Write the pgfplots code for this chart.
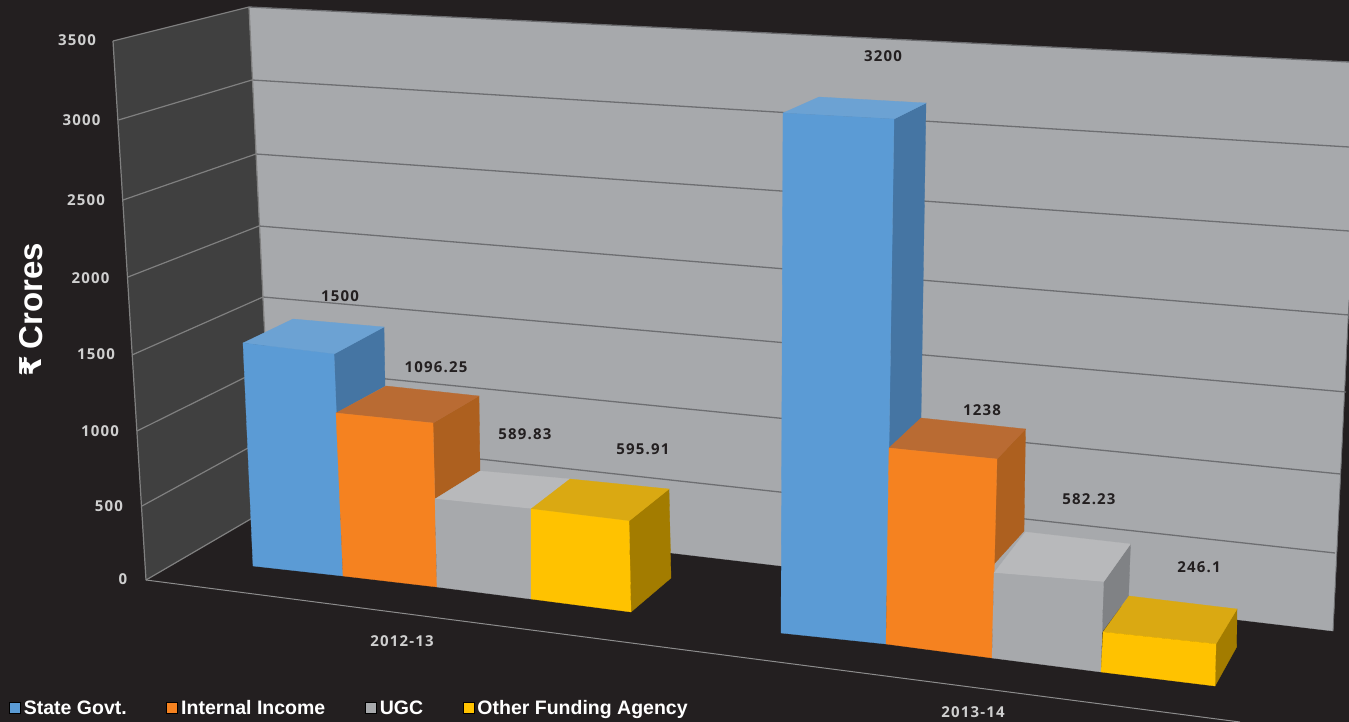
\documentclass[border=0pt]{standalone}
\usepackage{fontspec}
\usepackage{pgfplots}
\pgfplotsset{compat=1.18}
\setmainfont{Liberation Sans}
\newfontfamily\lab[LetterSpace=8]{Open Sans}
\newfontfamily\rup{DejaVu Sans}

\definecolor{bg}{HTML}{231F20}
\definecolor{lwall}{HTML}{404040}
\definecolor{bwall}{HTML}{A7A9AC}
\definecolor{lline}{HTML}{808080}
\definecolor{bline}{HTML}{6D6E71}
\definecolor{axline}{HTML}{8C8C8C}
\definecolor{tickc}{HTML}{CFCFCF}
\definecolor{bluef}{HTML}{5B9BD5}
\definecolor{bluet}{HTML}{6CA2D3}
\definecolor{blues}{HTML}{4575A3}
\definecolor{orangef}{HTML}{F58220}
\definecolor{oranget}{HTML}{B96B33}
\definecolor{oranges}{HTML}{AD601F}
\definecolor{grayf}{HTML}{A7A9AC}
\definecolor{grayt}{HTML}{B8B9BB}
\definecolor{grays}{HTML}{808285}
\definecolor{yellowf}{HTML}{FFC200}
\definecolor{yellowt}{HTML}{DAA912}
\definecolor{yellows}{HTML}{A37C00}

% filled face, corners in picture pixels
\newcommand{\face}[2]{\addplot[draw=#1,line width=0.3pt,fill=#1,forget plot] coordinates {#2} -- cycle;}
\newcommand{\seg}[3]{\addplot[draw=#1,line width=#2,forget plot] coordinates {#3};}
\newcommand{\ticklab}[2]{\node[text=tickc,font=\lab\bfseries\fontsize{15}{16}\selectfont] at (axis cs:#1) {#2};}
\newcommand{\vallab}[2]{\node[text=bg,font=\lab\bfseries\fontsize{15}{16}\selectfont] at (axis cs:#1) {#2};}

\begin{document}
\begin{tikzpicture}
\begin{axis}[
    width=1349pt, height=722pt,
    scale only axis,
    xmin=0, xmax=1349, ymin=0, ymax=722,
    y dir=reverse,
    hide axis,
    no markers,
    legend image code/.code={\fill[#1] (0pt,-5.5pt) rectangle (11pt,5.5pt);},
    legend style={
        at={(axis cs:9,708)}, anchor=west,
        draw=none, fill=none, text=white,
        font=\bfseries\fontsize{19.5}{21}\selectfont,
        legend columns=4,
        inner sep=0pt, outer sep=0pt,
        /tikz/every even column/.append style={column sep=39.5pt},
        /tikz/every odd column/.append style={column sep=3.5pt},
        nodes={inner sep=0pt},
    },
    legend cell align=left,
]
% background and walls
\face{bg}{(0,0) (1349,0) (1349,722) (0,722)}
\face{lwall}{(113,41) (249,7) (273,506) (146,580)}
\face{bwall}{(249,7) (1349,62) (1349,300) (1333,631) (273,506)}

% grid, back wall
\seg{bline}{1.3pt}{(249,7) (1349,62)}
\seg{bline}{1.3pt}{(252,80) (1349,147)}
\seg{bline}{1.3pt}{(256,154) (1349,231)}
\seg{bline}{1.3pt}{(259,226) (1349,315)}
\seg{bline}{1.3pt}{(263,297) (1346,392)}
\seg{bline}{1.3pt}{(266,367) (1340.5,474)}
\seg{bline}{1.3pt}{(270,436) (1335,553)}
\seg{bline}{0.8pt}{(1349,300) (1333,631)}
% grid, left wall
\seg{lline}{1.2pt}{(113,41) (249,7)}
\seg{lline}{1.2pt}{(118.5,120) (252,80)}
\seg{lline}{1.2pt}{(123,200) (256,154)}
\seg{lline}{1.2pt}{(128,277) (259,226)}
\seg{lline}{1.2pt}{(132,355) (263,297)}
\seg{lline}{1.2pt}{(137,431) (266,367)}
\seg{lline}{1.2pt}{(142,506) (270,436)}
\seg{lline}{1.2pt}{(146,580) (273,506)}
\seg{lline}{1.2pt}{(113,41) (146,580)}
\seg{lline}{1.2pt}{(249,7) (273,506)}
% front edge of the floor
\seg{axline}{1pt}{(146,580) (1240,722)}

% 2012-13: State Govt. 1500
\face{blues}{(334,354) (384,327) (385,386) (336,413)}
\face{bluet}{(243,343) (293,319) (384,327) (334,354)}
\face{bluef}{(243,343) (334,354) (343,576) (253,566)}
% 2012-13: Internal Income 1096.25
\face{oranges}{(433,423) (479,396) (480,471) (435,499)}
\face{oranget}{(336,413) (386,386) (479,396) (433,423)}
\face{orangef}{(336,413) (433,423) (437,587) (343,576)}
% 2012-13: UGC 589.83
\face{grayt}{(435,499) (480,471) (570,479) (532,509)}
\face{grayf}{(435,499) (532,509) (531,599) (437,587)}
% 2012-13: Other Funding Agency 595.91
\face{yellows}{(629,521) (669,489) (671,578) (631,612)}
\face{yellowt}{(531,509) (570,479) (669,489) (629,521)}
\face{yellowf}{(531,509) (629,521) (631,612) (531,599)}

% 2013-14: State Govt. 3200
\face{blues}{(894,119) (926,103) (921,418) (889,448)}
\face{bluet}{(783,113) (819,97) (926,103) (894,119)}
\face{bluef}{(783,113) (894,119) (886,644) (781,633)}
% 2013-14: Internal Income 1238
\face{oranges}{(997,459) (1025.5,429) (1024,531) (994,564)}
\face{oranget}{(889,448) (921,418) (1025.5,429) (997,459)}
\face{orangef}{(889,448) (997,459) (992,658) (886,644)}
% 2013-14: UGC 582.23
\face{grays}{(1103.5,582) (1130.5,544) (1128.6,596) (1102,632)}
\face{grayt}{(994,573) (1025.5,532) (1130.5,544) (1103.5,582)}
\face{grayf}{(994,573) (1103.5,582) (1101,672) (992,658)}
% 2013-14: Other Funding Agency 246.1
\face{yellows}{(1216,644) (1237,609) (1236.6,647) (1215,686)}
\face{yellowt}{(1103,632) (1129,596) (1237,609) (1216,644)}
\face{yellowf}{(1103,632) (1216,644) (1215,686) (1101,672)}

% legend
\addlegendimage{fill=bluef}
\addlegendentry{State Govt.}
\addlegendimage{fill=orangef}
\addlegendentry{Internal Income}
\addlegendimage{fill=grayf}
\addlegendentry{UGC}
\addlegendimage{fill=yellowf}
\addlegendentry{Other Funding Agency}

% value axis numbers
\ticklab{77,40}{3500}
\ticklab{81.5,120}{3000}
\ticklab{86,200}{2500}
\ticklab{90.5,278}{2000}
\ticklab{96,354}{1500}
\ticklab{100,431}{1000}
\ticklab{109,506}{500}
\ticklab{123,579}{0}
% categories
\ticklab{402,641}{2012-13}
\ticklab{973,712}{2013-14}
% values
\vallab{340,296}{1500}
\vallab{436,367}{1096.25}
\vallab{525,434}{589.83}
\vallab{643,449}{595.91}
\vallab{883,56}{3200}
\vallab{982,410}{1238}
\vallab{1089,499}{582.23}
\vallab{1199,567}{246.1}

% axis title
\node[rotate=90,text=white,font=\bfseries\fontsize{33}{35}\selectfont] at (axis cs:31,296) {Crores};
\node[rotate=90,text=white,font=\rup\bfseries\fontsize{30}{32}\selectfont] at (axis cs:31,366) {₹};
\end{axis}
\end{tikzpicture}
\end{document}
